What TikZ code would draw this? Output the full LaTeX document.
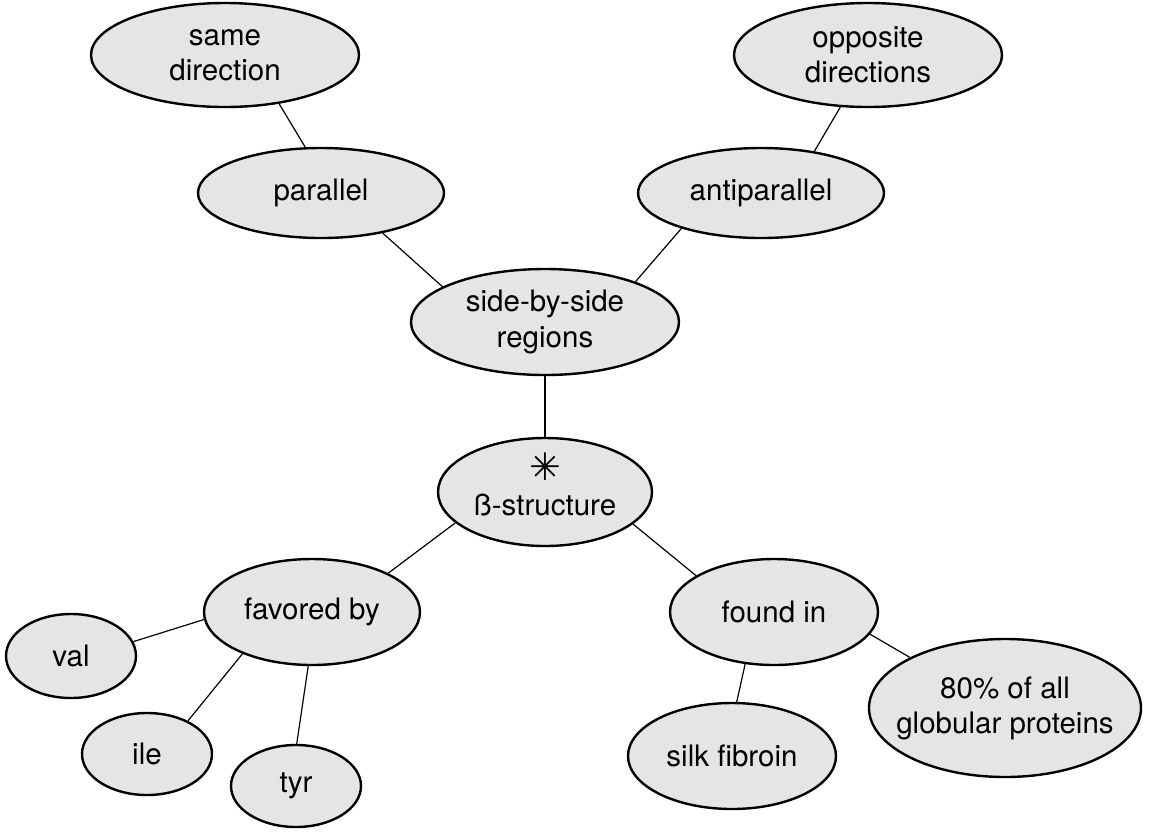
\documentclass[tikz,border=0pt]{standalone}
\usepackage{fontspec}
\setmainfont{TeX Gyre Heros}
\newfontfamily\symfont{DejaVu Sans}
\usepackage{tikz}
\usetikzlibrary{shapes.geometric}
\definecolor{bubblefill}{gray}{0.9}
\tikzset{
	bubble/.style={ellipse, draw=black, fill=bubblefill, line width=0.6mm, inner sep=0pt, align=center, font=\fontsize{21}{25}\selectfont},
	link/.style={draw=black, line width=0.3mm}
}

\begin{document}
\begin{tikzpicture}
				\useasboundingbox (0,0) rectangle (29,-20.8);
				
				\node[bubble, minimum width=6.7cm, minimum height=2.6cm] (same) at (5.625,-1.375) {same\\direction};
				\node[bubble, minimum width=6.7cm, minimum height=2.6cm] (opp) at (21.7,-1.375) {opposite\\directions};
				\node[bubble, minimum width=6.15cm, minimum height=2.25cm] (parallel) at (8.025,-4.825) {parallel};
				\node[bubble, minimum width=6.15cm, minimum height=2.25cm] (anti) at (19.025,-4.825) {antiparallel};
				
				\node[bubble, minimum width=6.7cm, minimum height=2.65cm] (side) at (13.625,-8.05) {side-by-side\\regions};
				\node[bubble, minimum width=5.35cm, minimum height=2.7cm] (beta) at (13.625,-12.3) {\raisebox{0pt}[9pt][0pt]{\symfont\fontsize{27}{25}\selectfont ✳}\\ß-structure};
				
				\node[bubble, minimum width=5.4cm, minimum height=2.65cm] (favored) at (7.8,-15.3) {favored by};
				\node[bubble, minimum width=5.2cm, minimum height=2.65cm] (found) at (19.35,-15.3) {found in};
				
				\node[bubble, minimum width=3.25cm, minimum height=2.1cm] (val) at (1.775,-16.4) {val};
				\node[bubble, minimum width=3.25cm, minimum height=2.05cm] (ile) at (3.675,-18.85) {ile};
				\node[bubble, minimum width=3.25cm, minimum height=2.05cm] (tyr) at (7.4,-19.65) {tyr};
				\node[bubble, minimum width=5.2cm, minimum height=2.65cm] (silk) at (18.3,-18.9) {silk fibroin};
				\node[bubble, minimum width=6.8cm, minimum height=3.45cm, inner xsep=-0.5cm] (glob) at (25.125,-17.7) {80\% of all\\globular proteins};
				
				\draw[link] (same.-42) -- (parallel.109);
				\draw[link] (opp.242) -- (anti.38);
				\draw[link] (parallel.-33) -- (side.161);
				\draw[link] (anti.204) -- (side.24);
				\draw[link] (side.south) -- (beta.north);
				\draw[link] (beta.199) -- (favored.27);
				\draw[link] (beta.-20) -- (found.155);
				\draw[link] (favored.184) -- (val.13);
				\draw[link] (favored.211) -- (ile.39);
				\draw[link] (favored.266) -- (tyr.89);
				\draw[link] (found.241) -- (silk.85);
				\draw[link] (found.-13) -- (glob.152);
			\end{tikzpicture}
\end{document}
